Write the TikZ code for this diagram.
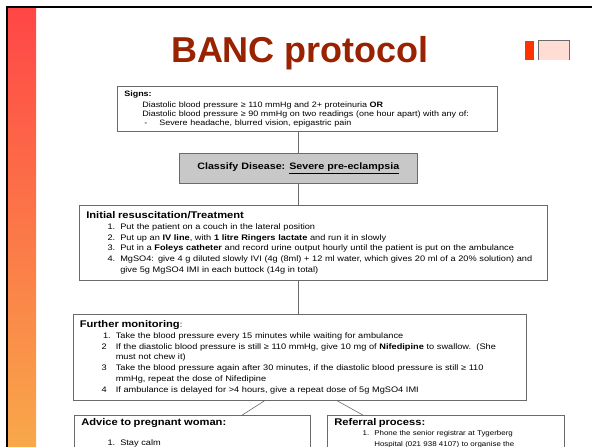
\documentclass[tikz,border=0pt]{standalone}
\usepackage{fontspec}
\setmainfont{Liberation Sans}
\newfontfamily\flowfont[FakeStretch=1.15]{Liberation Sans}
\usepackage{tikz}
\usetikzlibrary{positioning}
\definecolor{bancred}{HTML}{992200}
\definecolor{boxgray}{HTML}{6A6A6A}
\definecolor{classgray}{HTML}{C8C8C8}
\definecolor{barred}{HTML}{FF4646}
\definecolor{barorange}{HTML}{F8A84A}
\definecolor{iconred}{HTML}{FF3300}
\definecolor{iconpink}{HTML}{FFDCD4}
% numbered row with hanging indent
\newcommand{\listrow}[3]{\par\hangindent=#1\hangafter=1\noindent\makebox[#1][r]{#2\hspace{5pt}}#3\par}
\newcommand{\boxhead}[1]{{\fontsize{9.7}{11.5}\selectfont\bfseries #1}}
\tikzset{
  banc/box/.style={draw=boxgray, line width=0.6pt, fill=white, anchor=north west, align=left,
    inner xsep=7pt, inner ysep=3pt, font=\flowfont\fontsize{8}{10.8}\selectfont},
  banc/classify/.style={draw=boxgray, line width=0.6pt, fill=classgray, anchor=north west, align=center,
    minimum width=238pt, minimum height=30pt, font=\flowfont\fontsize{9.3}{11}\selectfont\bfseries},
  banc/link/.style={draw=boxgray, line width=0.6pt},
  banc/title/.style={font=\fontsize{36}{40}\selectfont\bfseries, text=bancred, inner sep=0pt}
}
\begin{document}
\begin{tikzpicture}[x=1pt, y=-1pt]
\useasboundingbox (0,0) rectangle (592,447);
\clip (0,0) rectangle (592,447);
% slide frame
\shade[top color=barred, bottom color=barorange] (8,7) rectangle (36,447);
\draw[line width=1.6pt] (7,447) |- (592,7);
\fill[iconred] (525,41) rectangle (534,60);
\draw[boxgray] (525,60) |- (534,41);
\fill[iconpink] (538,40) rectangle (569,60);
\draw[boxgray, line width=0.8pt] (538,60) |- (569,40) -- (569,60);
\node[banc/title, anchor=base] (title) at (300,62) {BANC protocol};
% flow chart
\node[banc/box, text width=366pt, minimum height=45pt, font=\flowfont\fontsize{7.8}{8.8}\selectfont] (signs) at (117,86) {%
  \textbf{Signs:}\par\vspace{2pt}
  \hspace*{18pt}Diastolic blood pressure ≥ 110 mmHg and 2+ proteinuria \textbf{OR}\par
  \hspace*{18pt}Diastolic blood pressure ≥ 90 mmHg on two readings (one hour apart) with any of:\par
  \hspace*{20pt}-\hspace{12pt}Severe headache, blurred vision, epigastric pain};
\node[banc/classify] (classify) at (179,153) {Classify Disease: \underline{Severe pre-eclampsia}};
\node[banc/box, text width=454pt, minimum height=75pt] (initial) at (79,205) {%
  \boxhead{Initial resuscitation/Treatment}
  \listrow{34pt}{1.}{Put the patient on a couch in the lateral position}
  \listrow{34pt}{2.}{Put up an \textbf{IV line}, with \textbf{1 litre Ringers lactate} and run it in slowly}
  \listrow{34pt}{3.}{Put in a \textbf{Foleys catheter} and record urine output hourly until the patient is put on the ambulance}
  \listrow{34pt}{4.}{MgSO4: give 4 g diluted slowly IVI (4g (8ml) + 12 ml water, which gives 20 ml of a 20\% solution) and\newline
    give 5g MgSO4 IMI in each buttock (14g in total)}};
\node[banc/box, text width=440pt, minimum height=86pt, inner xsep=6.5pt] (further) at (73,314) {%
  \boxhead{Further monitoring}:
  \listrow{36pt}{1.}{Take the blood pressure every 15 minutes while waiting for ambulance}
  \listrow{36pt}{2\hspace{4pt}}{If the diastolic blood pressure is still ≥ 110 mmHg, give 10 mg of \textbf{Nifedipine} to swallow.\ \ (She\newline
    must not chew it)}
  \listrow{36pt}{3\hspace{4pt}}{Take the blood pressure again after 30 minutes, if the diastolic blood pressure is still ≥ 110\newline
    mmHg, repeat the dose of Nifedipine}
  \listrow{36pt}{4\hspace{4pt}}{If ambulance is delayed for >4 hours, give a repeat dose of 5g MgSO4 IMI}};
\node[banc/box, text width=222pt, text depth=40pt] (advice) at (74,415) {%
  \boxhead{Advice to pregnant woman:}\par\vspace{9pt}
  \listrow{39pt}{1.}{Stay calm}};
\node[banc/box, text width=223pt, text depth=40pt, font=\flowfont\fontsize{6.9}{10.5}\selectfont] (referral) at (327,415) {%
  \boxhead{Referral process:}
  \listrow{40pt}{1.}{Phone the senior registrar at Tygerberg\newline
    Hospital (021 938 4107) to organise the}};
% connectors
\draw[banc/link] (signs.south -| classify) -- (classify.north);
\draw[banc/link] (classify.south) -- (classify.south |- initial.north);
\draw[banc/link] (initial.south -| classify) -- (further.north -| classify);
\draw[banc/link] ([xshift=-35pt]further.south) -- ([xshift=50pt]advice.north);
\draw[banc/link] ([xshift=37pt]further.south) -- ([xshift=-83pt]referral.north);
\end{tikzpicture}
\end{document}
